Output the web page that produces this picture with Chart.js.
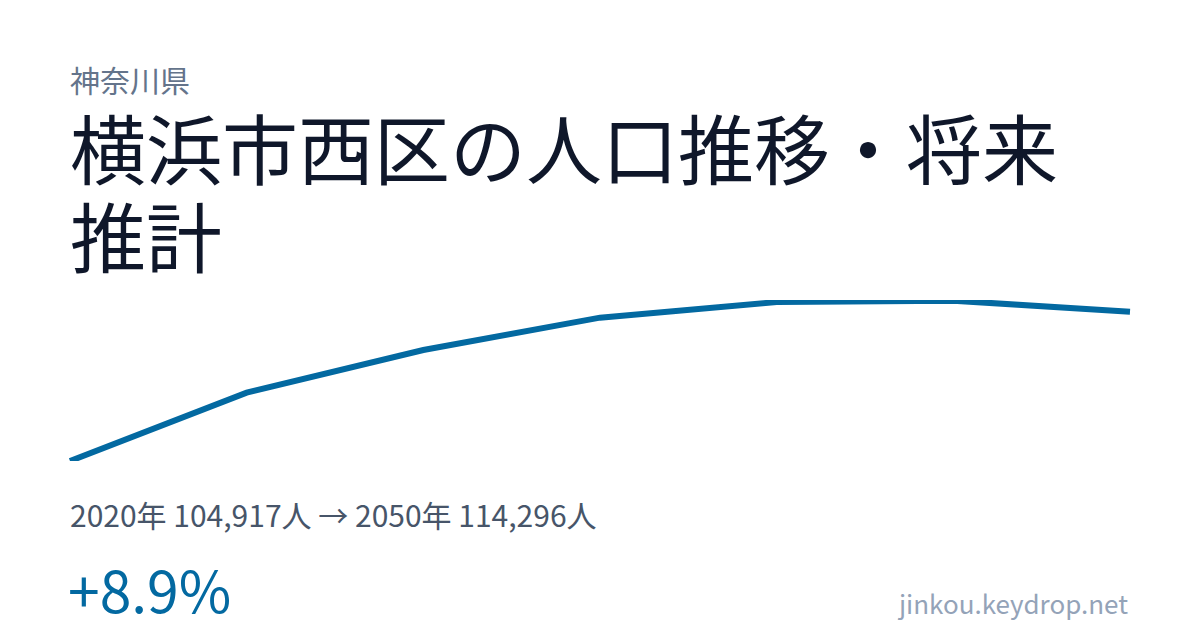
<!DOCTYPE html>
<html lang="ja">
<head>
<meta charset="utf-8">
<script src="https://cdn.jsdelivr.net/npm/chart.js@4/dist/chart.umd.min.js"></script>
<style>
    html, body {
        margin: 0;
        padding: 0;
        background: #ffffff;
    }
    body {
        width: 1200px;
        height: 630px;
        position: relative;
        overflow: hidden;
        font-family: "Noto Sans CJK JP", "Noto Sans", sans-serif;
    }
    #pref {
        position: absolute;
        left: 70px;
        top: 61px;
        font-size: 30px;
        line-height: 1.2;
        color: #64748b;
    }
    #title {
        position: absolute;
        left: 70px;
        top: 102px;
        width: 1060px;
        font-size: 76px;
        line-height: 88px;
        color: #0f172a;
    }
    #chartContainer {
        position: absolute;
        left: 60px;
        top: 290px;
        width: 1080px;
        height: 180px;
    }
    #summary {
        position: absolute;
        left: 70px;
        top: 496px;
        font-size: 30px;
        line-height: 1.2;
        color: #475569;
    }
    #change {
        position: absolute;
        left: 68px;
        top: 554px;
        font-size: 57px;
        line-height: 1.2;
        color: #0369a1;
    }
    #site {
        position: absolute;
        right: 72px;
        top: 587px;
        font-size: 26px;
        line-height: 1.2;
        color: #94a3b8;
    }
</style>
</head>
<body>
<div id="pref">神奈川県</div>
<div id="title">横浜市西区の人口推移・将来推計</div>
<div id="chartContainer"><canvas id="populationGraph"></canvas></div>
<div id="summary"></div>
<div id="change"></div>
<div id="site">jinkou.keydrop.net</div>

<script>
//<![CDATA[

let years = ['2020', '2025', '2030', '2035', '2040', '2045', '2050'];
let population = [104917, 109210, 111890, 113920, 114900, 114990, 114296];
let lineColor = 'rgba(3, 105, 161, 1)';

window.addEventListener('load', function() {
    updateUi();
});

function updateUi() {
    updateText();
    updateChart();
}

function updateText() {
    let first = population[0];
    let last = population[population.length - 1];
    let fmt = (n) => n.toLocaleString('ja-JP');

    document.getElementById('summary').textContent =
        years[0] + '年 ' + fmt(first) + '人 → ' +
        years[years.length - 1] + '年 ' + fmt(last) + '人';

    let pct = (last - first) / first * 100;
    document.getElementById('change').textContent =
        (pct >= 0 ? '+' : '') + pct.toFixed(1) + '%';
}

function updateChart() {
    const ctx = document.getElementById('populationGraph');
    const populationChart = new Chart(ctx, {
        type: 'line',
        data: {
            labels: years,
            datasets: [
                {
                    label: '',
                    data: population,
                    borderColor: lineColor,
                    borderWidth: 6,
                    borderCapStyle: 'butt',
                    pointRadius: 0,
                    tension: 0,
                    fill: false
                }
            ]
        },
        options: {
            responsive: true,
            maintainAspectRatio: false,
            animation: false,
            layout: {
                padding: { left: 10, right: 10, top: 10, bottom: 9 }
            },
            plugins: {
                legend: { display: false },
                tooltip: { enabled: false }
            },
            scales: {
                x: { display: false },
                y: { display: false, min: 104917, max: 115030 }
            }
        }
    });
}

// ]]>
</script>
</body>
</html>
